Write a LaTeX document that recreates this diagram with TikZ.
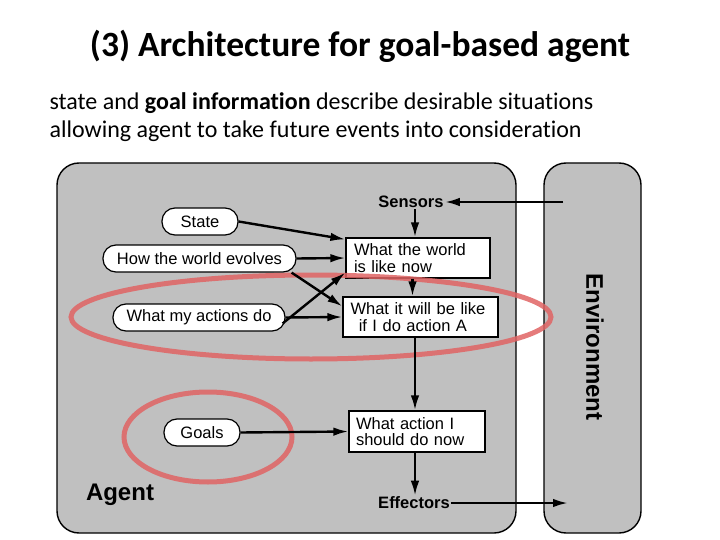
\documentclass[tikz,border=0pt]{standalone}
\usepackage{fontspec}
\setmainfont[Ligatures={NoCommon}]{Carlito}
\newfontfamily\diag{Liberation Sans}
\usetikzlibrary{arrows.meta}
\definecolor{panel}{RGB}{192,192,192}
\definecolor{hl}{RGB}{224,100,100}
\begin{document}
\begin{tikzpicture}[x=1pt,y=-1pt,
  panelbox/.style={draw=black,line width=1.4pt,fill=panel,rounded corners=22pt},
  pill/.style={draw=black,line width=1.2pt,fill=white,rounded corners=13pt,font=\diag\fontsize{16.5}{17}\selectfont,inner sep=0pt},
  sqbox/.style={draw=black,line width=1.2pt,fill=white,font=\diag\fontsize{16.5}{16.5}\selectfont,align=left,inner sep=0pt},
  lbl/.style={font=\diag\bfseries\fontsize{16.5}{17}\selectfont,inner sep=1pt},
  arr/.style={line width=2.4pt,-{Latex[length=15pt,width=8.5pt]}},
  ring/.style={draw=hl,line width=5pt,opacity=0.85}]
\useasboundingbox (0,0) rectangle (720,540);
% texts
\node[font=\bfseries\fontsize{35.5}{38}\selectfont] (title) at (360,46) {(3) Architecture for goal-based agent};
\node[anchor=west,font=\fontsize{24}{28}\selectfont,align=left] (body) at (46,117) {state and \textbf{goal information} describe desirable situations\\allowing agent to take future events into consideration};
% panels
\draw[panelbox] (57,163) rectangle (516,533);
\draw[panelbox] (544,163) rectangle (641,533);
\node[font=\diag\bfseries\fontsize{24}{25}\selectfont,rotate=-90] (env) at (595,347) {Environment};
\node[font=\diag\bfseries\fontsize{24}{25}\selectfont] (agent) at (120,495) {Agent};
% nodes
\node[lbl] (sens) at (411,202) {Sensors};
\node[lbl] (eff) at (414,503) {Effectors};
\node[pill,minimum width=76pt,minimum height=27pt] (state) at (200,221.5) {State};
\node[pill,minimum width=193pt,minimum height=27pt] (how) at (199.5,258.5) {How the world evolves};
\node[pill,minimum width=172pt,minimum height=27pt] (act) at (199,317.5) {What my actions do};
\node[pill,minimum width=76pt,minimum height=27pt] (goals) at (202,432.5) {Goals};
\node[sqbox,minimum width=144pt,minimum height=40pt,text width=128pt] (b1) at (418,258) {What the world\\is like now};
\node[sqbox,minimum width=155pt,minimum height=40pt,text width=140pt] (b2) at (420.5,317) {What it will be like\\\ \,if I do action A};
\node[sqbox,minimum width=136pt,minimum height=41pt,text width=122pt] (b3) at (417,431.5) {What action I\\should do now};
\coordinate (ein) at (563,202);
\coordinate (eout) at (568,503);
% highlights (behind connectors)
\draw[ring] (311,317) ellipse [x radius=240pt,y radius=42pt];
\draw[ring] (208,437) ellipse [x radius=84pt,y radius=45pt];
% connectors
\draw[arr] (ein) -- (sens.east);
\draw[arr] ([xshift=-3pt]b1.north |- sens.south) -- ([xshift=-3pt]b1.north);
\draw[arr] (state.east) -- ([yshift=-2pt]b1.north west);
\draw[arr] (how.east) -- (b1.west);
\draw[arr] ([xshift=-5pt]how.south east) -- ([yshift=-10pt]b2.north west);
\draw[arr] ([xshift=-3pt,yshift=-6pt]act.east) -- ([yshift=6pt]b1.south west);
\draw[arr] (act.east) -- (b2.west);
\draw[arr] ([xshift=-5.5pt]b1.south) -- ([xshift=-5.5pt]b1.south |- b2.north);
\draw[arr] ([xshift=-5.5pt]b2.south) -- ([xshift=-5.5pt]b2.south |- b3.north);
\draw[arr] (goals.east) -- (b3.west);
\draw[arr] ([xshift=-2pt]b3.south) -- ([xshift=-2pt]b3.south |- eff.north);
\draw[arr] (eff.east) -- (eout);
\end{tikzpicture}
\end{document}
